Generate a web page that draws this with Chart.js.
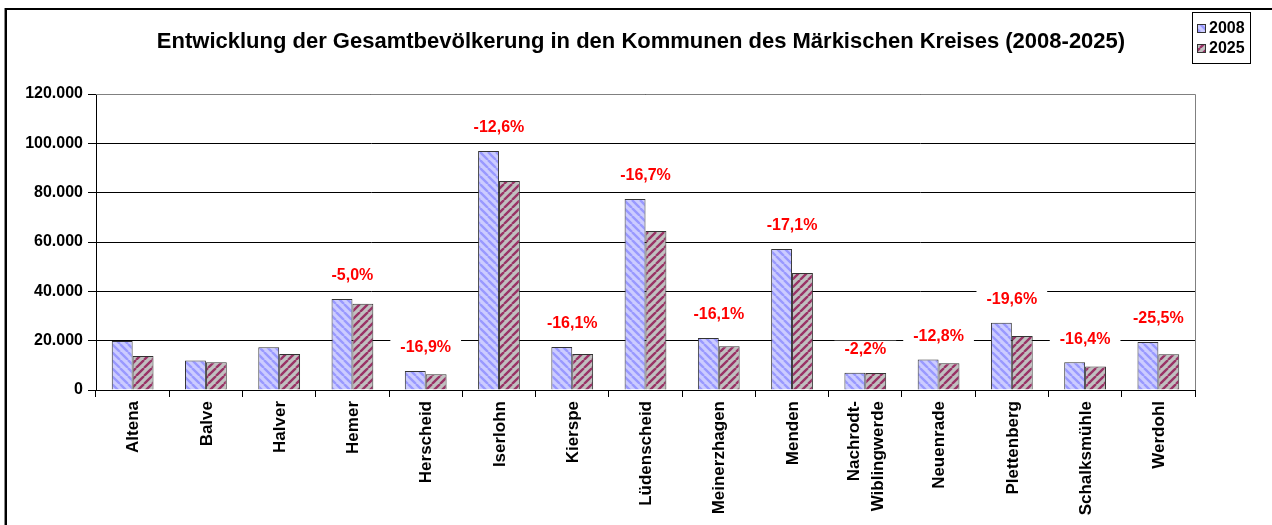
<!DOCTYPE html>
<html>
<head>
<meta charset="utf-8">
<script src="https://cdn.jsdelivr.net/npm/chart.js@4"></script>
<style>
  html, body { margin: 0; padding: 0; background: #fff; }
  #wrap { position: absolute; left: 0; top: 0; width: 1272px; height: 525px; }
</style>
</head>
<body>
<div id="wrap"><canvas id="myChart" width="1272" height="525"></canvas></div>
<script>
var title      = 'Entwicklung der Gesamtbevölkerung in den Kommunen des Märkischen Kreises (2008-2025)';
var kommunen   = ['Altena', 'Balve', 'Halver', 'Hemer', 'Herscheid', 'Iserlohn', 'Kierspe', 'Lüdenscheid',
                  'Meinerzhagen', 'Menden', ['Nachrodt-', 'Wiblingwerde'], 'Neuenrade', 'Plettenberg',
                  'Schalksmühle', 'Werdohl'];
var werte2008  = [19900, 12000, 17300, 36900, 7700, 96900, 17400, 77400, 21100, 57200, 7000, 12400, 27300, 11300, 19500];
var werte2025  = [13800, 11200, 14600, 35000, 6400, 84700, 14600, 64500, 17700, 47400, 6850, 10800, 21900, 9500, 14500];
var veraenderung = [null, null, null, '-5,0%', '-16,9%', '-12,6%', '-16,1%', '-16,7%', '-16,1%', '-17,1%',
                    '-2,2%', '-12,8%', '-19,6%', '-16,4%', '-25,5%'];
var y_ticks    = [0, 20000, 40000, 60000, 80000, 100000, 120000];

var FONT = "'Liberation Sans', Arial, sans-serif";

// hatch patterns like the excel fills
function make_pattern(bg, fg, dir){
  var c = document.createElement('canvas');
  c.width = 8; c.height = 8;
  var g = c.getContext('2d');
  g.fillStyle = bg;
  g.fillRect(0, 0, 8, 8);
  g.strokeStyle = fg;
  g.lineWidth = 2.4;
  g.beginPath();
  [-8, 0, 8].forEach(function(k){
    if(dir == 'back'){ g.moveTo(k, 0); g.lineTo(k+8, 8); }
    else { g.moveTo(k, 8); g.lineTo(k+8, 0); }
  });
  g.stroke();
  return g.createPattern(c, 'repeat');
}
var fill2008 = make_pattern('#ccccff', '#9999ff', 'back');
var fill2025 = make_pattern('#c0c0c0', '#993366', 'fwd');

function dotted(v){
  return String(v).replace(/\B(?=(\d{3})+(?!\d))/g, '.');
}

// frame, title, legend, percent labels, rotated category names
var extras = {
  id: 'extras',
  beforeDraw: function(chart){
    var ctx = chart.ctx;
    ctx.save();
    ctx.fillStyle = '#fff';
    ctx.fillRect(0, 0, chart.width, chart.height);
    ctx.fillStyle = '#888';
    ctx.fillRect(4, 8, 1, 525);
    ctx.fillStyle = '#000';
    ctx.fillRect(5, 8, 2, 525);
    ctx.fillRect(5, 8, 1272, 2);
    ctx.font = 'bold 22px ' + FONT;
    ctx.textAlign = 'center';
    ctx.textBaseline = 'middle';
    ctx.fillText(title, 641, 42);
    ctx.restore();
  },
  beforeDatasetsDraw: function(chart){
    var ctx = chart.ctx, xs = chart.scales.x, ys = chart.scales.y;
    ctx.save();
    ctx.font = 'bold 16px ' + FONT;
    ctx.textAlign = 'center';
    ctx.textBaseline = 'middle';
    veraenderung.forEach(function(t, i){
      if(!t) return;
      var x = xs.getPixelForValue(i);
      var y = ys.getPixelForValue(werte2008[i]) - 23;
      var w = ctx.measureText(t).width + 20;
      ctx.fillStyle = '#fff';
      ctx.fillRect(x - w/2, y - 9, w, 18);
      ctx.fillStyle = '#ff0000';
      ctx.fillText(t, x, y);
    });
    ctx.restore();
  },
  afterDraw: function(chart){
    var ctx = chart.ctx, a = chart.chartArea, xs = chart.scales.x;
    ctx.save();
    // plot area border top/right
    ctx.strokeStyle = '#808080';
    ctx.lineWidth = 1;
    ctx.beginPath();
    ctx.moveTo(a.left, a.top + 0.5);
    ctx.lineTo(a.right + 0.5, a.top + 0.5);
    ctx.lineTo(a.right + 0.5, a.bottom);
    ctx.stroke();
    // category names, centred lines
    ctx.fillStyle = '#000';
    ctx.font = 'bold 17px ' + FONT;
    ctx.textAlign = 'right';
    ctx.textBaseline = 'middle';
    kommunen.forEach(function(lab, i){
      var lines = Array.isArray(lab) ? lab : [lab];
      var x = xs.getPixelForValue(i);
      var lh = 24;
      lines.forEach(function(l, j){
        var cx = x + (j - (lines.length - 1) / 2) * lh;
        ctx.save();
        ctx.translate(cx + 1, a.bottom + 11);
        ctx.rotate(-Math.PI / 2);
        ctx.fillText(l, 0, 0);
        ctx.restore();
      });
    });
    // legend
    ctx.strokeStyle = '#000';
    ctx.strokeRect(1192.5, 12.5, 58, 51);
    [[fill2008, '2008', 28], [fill2025, '2025', 48]].forEach(function(r){
      ctx.fillStyle = r[0];
      ctx.fillRect(1197, r[2] - 4, 9, 9);
      ctx.strokeStyle = '#333';
      ctx.strokeRect(1197.5, r[2] - 3.5, 8, 8);
      ctx.fillStyle = '#000';
      ctx.font = 'bold 16px ' + FONT;
      ctx.textAlign = 'left';
      ctx.textBaseline = 'middle';
      ctx.fillText(r[1], 1209, r[2] + 1);
    });
    ctx.restore();
  }
};

var ctx = document.getElementById('myChart');
window.chart = new Chart(ctx, {
  type: 'bar',
  data: {
    labels: kommunen,
    datasets: [{
      label: '2008',
      data: werte2008,
      backgroundColor: fill2008,
      borderColor: '#333',
      borderWidth: 1,
      categoryPercentage: 0.57,
      barPercentage: 1.0
    }, {
      label: '2025',
      data: werte2025,
      backgroundColor: fill2025,
      borderColor: '#333',
      borderWidth: 1,
      categoryPercentage: 0.57,
      barPercentage: 1.0
    }]
  },
  options: {
    responsive: false,
    animation: false,
    devicePixelRatio: 1,
    layout: { padding: { left: 0, right: 77, top: 94, bottom: 0 } },
    plugins: {
      legend: { display: false },
      title: { display: false },
      tooltip: { enabled: false }
    },
    scales: {
      x: {
        grid: { drawOnChartArea: false, color: '#000', tickLength: 7, offset: true },
        border: { color: '#000', width: 1 },
        ticks: { display: false },
        afterFit: function(s){ s.height = 135; }
      },
      y: {
        min: 0,
        max: 120000,
        afterBuildTicks: function(s){ s.ticks = y_ticks.map(function(v){ return {value: v}; }); },
        grid: { color: '#000', tickLength: 8 },
        border: { color: '#000', width: 1 },
        ticks: {
          color: '#000',
          padding: 5,
          font: { family: FONT, size: 16, weight: 'bold' },
          callback: function(v){ return dotted(v); }
        },
        afterFit: function(s){ s.width = 96; }
      }
    }
  },
  plugins: [extras]
});
</script>
</body>
</html>
